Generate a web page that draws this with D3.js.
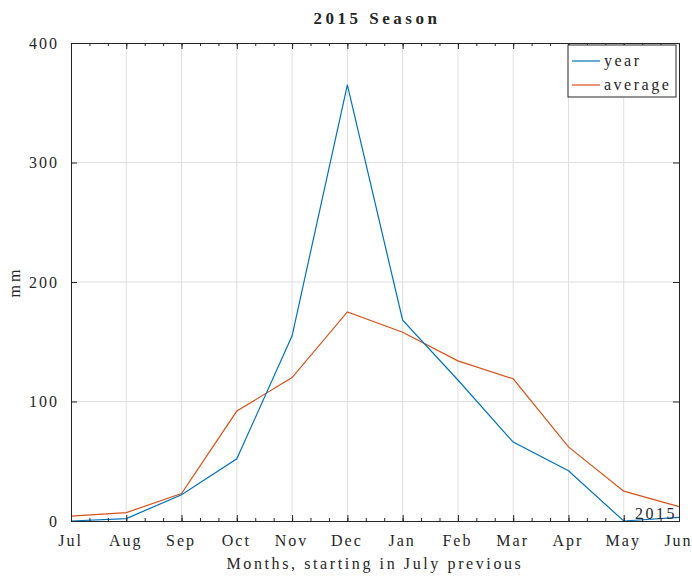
<!DOCTYPE html>
<html lang="en">
<head>
<meta charset="utf-8">
<title>2015 Season</title>
<script src="https://cdnjs.cloudflare.com/ajax/libs/d3/7.8.5/d3.min.js"></script>
<style>
body { margin: 0; background: #fff; }
text { font-family: "Liberation Serif", "DejaVu Serif", serif; fill: #262626; }
</style>
</head>
<body>
<script>
var months = ["Jul", "Aug", "Sep", "Oct", "Nov", "Dec", "Jan", "Feb", "Mar", "Apr", "May", "Jun"];
var yearVals = [0, 2, 22, 52, 155, 365, 168, 118, 66, 42, 0, 3];
var averageVals = [4, 7, 23, 92, 120, 175, 158, 134, 119, 62, 25, 12];
var yTicks = [0, 100, 200, 300, 400];

var W = 692, H = 577;
var m = {left: 71, right: 679, top: 43, bottom: 521};

var svg = d3.select("body").append("svg")
	.attr("width", W)
	.attr("height", H);

var x = d3.scaleLinear().domain([0, months.length - 1]).range([m.left, m.right]);
var y = d3.scaleLinear().domain([0, 400]).range([m.bottom, m.top]);

// grid
svg.append("g")
	.selectAll("line.gx")
	.data(d3.range(1, months.length - 1))
	.enter().append("line")
	.attr("x1", function(d){ return x(d); })
	.attr("x2", function(d){ return x(d); })
	.attr("y1", m.top).attr("y2", m.bottom)
	.style("stroke", "#dfdfdf").style("stroke-width", 1);

svg.append("g")
	.selectAll("line.gy")
	.data(yTicks.slice(1, -1))
	.enter().append("line")
	.attr("x1", m.left).attr("x2", m.right)
	.attr("y1", function(d){ return y(d); })
	.attr("y2", function(d){ return y(d); })
	.style("stroke", "#dfdfdf").style("stroke-width", 1);

// lines
var line = d3.line()
	.x(function(d, i){ return x(i); })
	.y(function(d){ return y(d); });

svg.append("path").datum(averageVals)
	.attr("d", line)
	.style("fill", "none").style("stroke", "#D95319").style("stroke-width", 1.2);

svg.append("path").datum(yearVals)
	.attr("d", line)
	.style("fill", "none").style("stroke", "#0072BD").style("stroke-width", 1.2);

// axes
var minor = d3.range(0, (months.length - 1) * 3 + 1).map(function(d){ return d / 3; });

var xAxis = d3.axisBottom(x)
	.tickValues(d3.range(months.length))
	.tickFormat(function(d){ return months[d]; })
	.tickSize(-6).tickPadding(14);
var xTop = d3.axisTop(x).tickValues(d3.range(months.length)).tickFormat("").tickSize(-6);
var xMinorB = d3.axisBottom(x).tickValues(minor).tickFormat("").tickSize(-3);
var xMinorT = d3.axisTop(x).tickValues(minor).tickFormat("").tickSize(-3);

var yAxis = d3.axisLeft(y).tickValues(yTicks).tickSize(-6).tickPadding(12);
var yRight = d3.axisRight(y).tickValues(yTicks).tickFormat("").tickSize(-6);

function styleAxis(g){
	g.select(".domain").style("stroke", "#262626");
	g.selectAll(".tick line").style("stroke", "#262626");
	g.selectAll("text")
		.style("font-family", "'Liberation Serif', serif")
		.style("font-size", "16px")
		.style("letter-spacing", "2px")
		.style("fill", "#262626");
}

svg.append("g").attr("transform", "translate(0," + m.bottom + ")").call(xMinorB).call(styleAxis);
svg.append("g").attr("transform", "translate(0," + m.top + ")").call(xMinorT).call(styleAxis);
svg.append("g").attr("transform", "translate(0," + m.top + ")").call(xTop).call(styleAxis);
svg.append("g").attr("transform", "translate(0," + m.bottom + ")").call(xAxis).call(styleAxis)
	.selectAll(".tick text").attr("dx", -1);
svg.append("g").attr("transform", "translate(" + m.right + ",0)").call(yRight).call(styleAxis);
svg.append("g").attr("transform", "translate(" + m.left + ",0)").call(yAxis).call(styleAxis);

svg.selectAll("path.domain").style("stroke-width", 1);

// titles
svg.append("text")
	.attr("x", (m.left + m.right) / 2 + 2).attr("y", 24)
	.attr("text-anchor", "middle")
	.style("font-size", "17px").style("font-weight", "bold").style("letter-spacing", "3.5px")
	.text("2015 Season");

svg.append("text")
	.attr("x", (m.left + m.right) / 2).attr("y", 569)
	.attr("text-anchor", "middle")
	.style("font-size", "16px").style("letter-spacing", "2.6px")
	.text("Months, starting in July previous");

svg.append("text")
	.attr("transform", "translate(20," + ((m.top + m.bottom) / 2) + ") rotate(-90)")
	.attr("text-anchor", "middle")
	.style("font-size", "16px").style("letter-spacing", "3px")
	.text("mm");

// year stamp
svg.append("text")
	.attr("x", m.right - 2).attr("y", m.bottom - 2)
	.attr("text-anchor", "end")
	.style("font-size", "16px").style("letter-spacing", "2.5px")
	.text("2015");

// legend
var leg = svg.append("g").attr("transform", "translate(568,45)");
leg.append("rect")
	.attr("width", 108).attr("height", 52)
	.style("fill", "#fff").style("stroke", "#262626").style("stroke-width", 1);
var entries = [{name: "year", color: "#0072BD"}, {name: "average", color: "#D95319"}];
entries.forEach(function(d, i){
	var yy = 16 + i * 24;
	leg.append("line")
		.attr("x1", 4).attr("x2", 32).attr("y1", yy).attr("y2", yy)
		.style("stroke", d.color).style("stroke-width", 1.2);
	leg.append("text")
		.attr("x", 36).attr("y", yy + 5)
		.style("font-size", "16px").style("letter-spacing", "2.5px")
		.text(d.name);
});
</script>
</body>
</html>
